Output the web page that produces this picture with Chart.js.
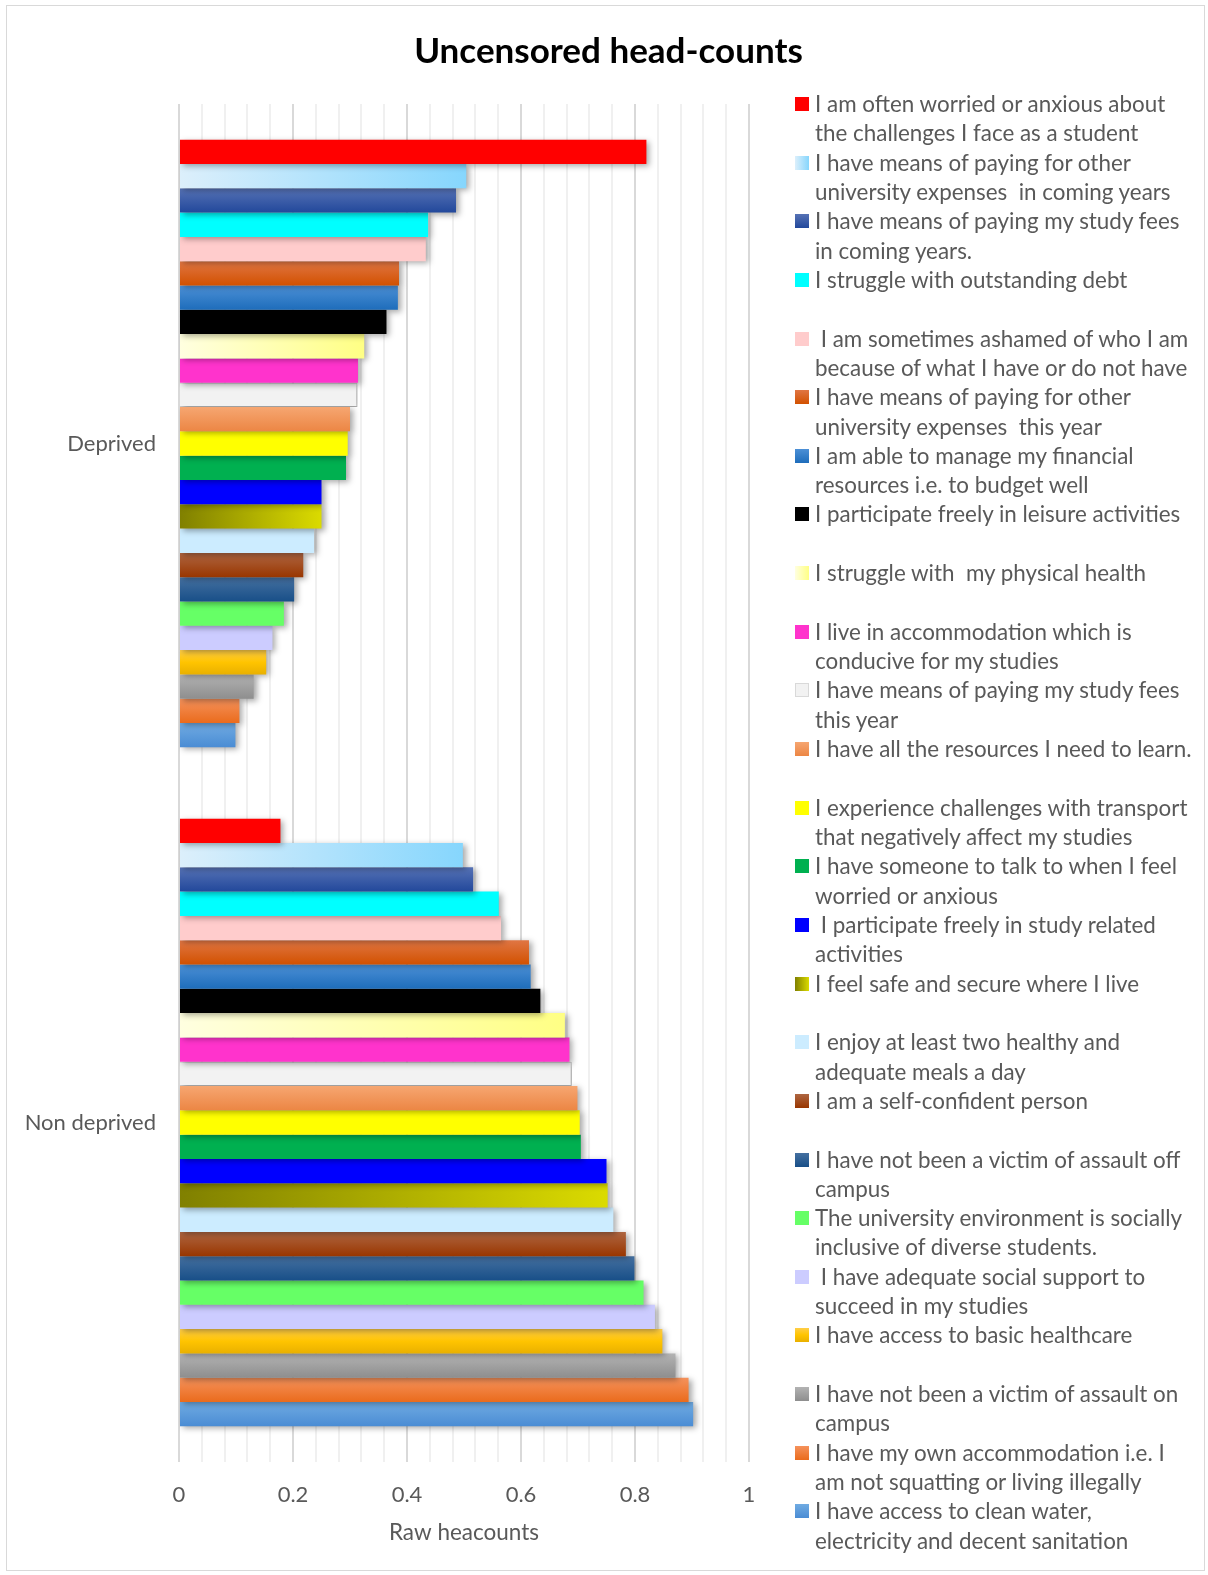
<!DOCTYPE html>
<html>
<head>
<meta charset="utf-8">
<title>Uncensored head-counts</title>
<script src="https://cdn.jsdelivr.net/npm/chart.js@4"></script>
<style>
  html, body { margin: 0; padding: 0; background: #fff; }
  #wrap { position: relative; width: 1208px; height: 1575px; overflow: hidden;
          font-family: Lato, "Open Sans", sans-serif; }
  #frame { position: absolute; left: 6px; top: 5px; width: 1199px; height: 1566px;
           border: 1px solid #d9d9d9; box-sizing: border-box; }
  #title { position: absolute; left: 0; width: 1217px; top: 28px; text-align: center;
           font-weight: bold; font-size: 35px; line-height: 42px; color: #000; }
  #chart { position: absolute; left: 0; top: 0; }
  #legend { position: absolute; left: 795px; top: 89px; }
  .item { display: flex; height: 58.65px; }
  .box { width: 14px; height: 14px; margin-top: 8px; margin-right: 6px; flex: none;
         box-sizing: border-box; }
  .txt { font-size: 22.4px; line-height: 29.3px; color: #595959; white-space: pre; }
</style>
</head>
<body>
<div id="wrap">
  <div id="frame"></div>
  <canvas id="chart" width="1208" height="1575"></canvas>
  <div id="title">Uncensored head-counts</div>
  <div id="legend"></div>
</div>
<script>
(function () {
  'use strict';

  // ----------------------------------------------------------
  // Données
  // ----------------------------------------------------------
  const categories = ['Deprived', 'Non deprived'];

  // libellés des séries, coupés comme dans la légende d'origine
  const seriesNames = [
    ['I am often worried or anxious about', 'the challenges I face as a student'],
    ['I have means of paying for other', 'university expenses  in coming years'],
    ['I have means of paying my study fees', 'in coming years.'],
    ['I struggle with outstanding debt', ''],
    [' I am sometimes ashamed of who I am', 'because of what I have or do not have'],
    ['I have means of paying for other', 'university expenses  this year'],
    ['I am able to manage my financial', 'resources i.e. to budget well'],
    ['I participate freely in leisure activities', ''],
    ['I struggle with  my physical health', ''],
    ['I live in accommodation which is', 'conducive for my studies'],
    ['I have means of paying my study fees', 'this year'],
    ['I have all the resources I need to learn.', ''],
    ['I experience challenges with transport', 'that negatively affect my studies'],
    ['I have someone to talk to when I feel', 'worried or anxious'],
    [' I participate freely in study related', 'activities'],
    ['I feel safe and secure where I live', ''],
    ['I enjoy at least two healthy and', 'adequate meals a day'],
    ['I am a self-confident person', ''],
    ['I have not been a victim of assault off', 'campus'],
    ['The university environment is socially', 'inclusive of diverse students.'],
    [' I have adequate social support to', 'succeed in my studies'],
    ['I have access to basic healthcare', ''],
    ['I have not been a victim of assault on', 'campus'],
    ['I have my own accommodation i.e. I', 'am not squatting or living illegally'],
    ['I have access to clean water,', 'electricity and decent sanitation'],
  ];

  const deprivedValues = [
    0.820, 0.504, 0.486, 0.437, 0.433, 0.386, 0.384, 0.364, 0.325, 0.314, 0.313, 0.300, 0.296,
    0.293, 0.250, 0.250, 0.237, 0.218, 0.202, 0.184, 0.164, 0.153, 0.131, 0.106, 0.099,
  ];
  const nonDeprivedValues = [
    0.178, 0.498, 0.516, 0.561, 0.565, 0.614, 0.617, 0.634, 0.677, 0.685, 0.689, 0.699, 0.703,
    0.705, 0.750, 0.752, 0.762, 0.784, 0.799, 0.815, 0.835, 0.848, 0.871, 0.894, 0.902,
  ];

  const majorTicks = [0, 0.2, 0.4, 0.6, 0.8, 1];
  const tickLabels = ['0', '0.2', '0.4', '0.6', '0.8', '1'];
  const minorPerMajor = 5;

  // ----------------------------------------------------------
  // Styles (couleurs unies ou dégradés façon Excel)
  // ----------------------------------------------------------
  const seriesStyles = [
    '#FF0000',
    { dir: 'h', stops: ['#DCEFFB', '#86D6FD'] },
    { dir: 'v', stops: ['#5672B5', '#22489B'] },
    '#00FFFF',
    '#FFCCCC',
    { dir: 'v', stops: ['#E07644', '#D25100'] },
    { dir: 'v', stops: ['#4C90D6', '#1E6DBB'] },
    '#000000',
    { dir: 'h', stops: ['#FFFFE0', '#FFFF84'] },
    '#FF33CC',
    '#F2F2F2',
    { dir: 'v', stops: ['#F6A671', '#EC8644'] },
    '#FFFF00',
    '#00B050',
    '#0000FF',
    { dir: 'h', stops: ['#808000', '#DBDB00'] },
    '#CCECFF',
    { dir: 'v', stops: ['#AE6642', '#993600'] },
    { dir: 'v', stops: ['#4570A0', '#184F88'] },
    '#66FF66',
    '#CCCCFF',
    { dir: 'v', stops: ['#FFCE48', '#FFC400', '#E9B000'] },
    { dir: 'v', stops: ['#B3B3B3', '#8E8E8E'] },
    { dir: 'v', stops: ['#F5925C', '#EA6B1C'] },
    { dir: 'v', stops: ['#70ABE2', '#4A8CD4'] },
  ];

  function fillFor(style) {
    if (typeof style === 'string') return style;
    const last = style.stops[style.stops.length - 1];
    return function (c) {
      if (c.type !== 'data') return last;
      const bar = c.chart.getDatasetMeta(c.datasetIndex).data[c.dataIndex];
      if (!bar || !isFinite(bar.x) || !isFinite(bar.y) || !isFinite(bar.base)) return last;
      const ctx = c.chart.ctx;
      const g = style.dir === 'h'
        ? ctx.createLinearGradient(bar.base, 0, Math.max(bar.x, bar.base + 1), 0)
        : ctx.createLinearGradient(0, bar.y - bar.height / 2, 0, bar.y + bar.height / 2);
      style.stops.forEach((s, i) => g.addColorStop(i / (style.stops.length - 1), s));
      return g;
    };
  }

  function cssFor(style) {
    if (typeof style === 'string') return style;
    return 'linear-gradient(' + (style.dir === 'h' ? 'to right' : 'to bottom') + ', '
      + style.stops.join(', ') + ')';
  }

  // ----------------------------------------------------------
  // Graduations : majeures tous les 0.2, mineures entre
  // ----------------------------------------------------------
  const allTicks = [];
  for (let i = 0; i < majorTicks.length - 1; i++) {
    const step = (majorTicks[i + 1] - majorTicks[i]) / minorPerMajor;
    for (let k = 0; k < minorPerMajor; k++) allTicks.push(majorTicks[i] + k * step);
  }
  allTicks.push(majorTicks[majorTicks.length - 1]);

  function majorIndex(v) {
    return majorTicks.findIndex((m) => Math.abs(m - v) < 1e-6);
  }

  // ombre portée sous les barres
  const barShadow = {
    id: 'barShadow',
    beforeDatasetsDraw(chart) {
      const ctx = chart.ctx;
      ctx.save();
      ctx.shadowColor   = 'rgba(0, 0, 0, 0.35)';
      ctx.shadowBlur    = 6;
      ctx.shadowOffsetX = 3;
      ctx.shadowOffsetY = 2;
    },
    afterDatasetsDraw(chart) {
      chart.ctx.restore();
    },
  };

  // ----------------------------------------------------------
  // Graphique
  // ----------------------------------------------------------
  Chart.defaults.font.family = 'Lato, "Open Sans", sans-serif';
  Chart.defaults.color = '#595959';

  const datasets = seriesNames.map((lines, i) => ({
    label:           lines.join(' ').trim(),
    data:            [deprivedValues[i], nonDeprivedValues[i]],
    backgroundColor: fillFor(seriesStyles[i]),
    borderColor:     '#D0D0D0',
    borderWidth:     seriesStyles[i] === '#F2F2F2' ? 1 : 0,
  }));

  const chart = new Chart(document.getElementById('chart'), {
    type: 'bar',
    data: { labels: categories, datasets },
    options: {
      indexAxis:  'y',
      responsive: false,
      animation:  false,
      events:     [],
      devicePixelRatio: 1,
      barPercentage:      1,
      categoryPercentage: 0.895,
      layout: { padding: { left: 0, right: 459, top: 104, bottom: 28 } },
      plugins: {
        legend:  { display: false },
        tooltip: { enabled: false },
      },
      scales: {
        x: {
          type: 'linear',
          min: 0,
          max: 1,
          afterBuildTicks: (scale) => { scale.ticks = allTicks.map((v) => ({ value: v })); },
          afterFit: (scale) => { scale.height = 85; },
          border: { display: false },
          grid: {
            drawTicks: false,
            lineWidth: 2,
            color: (c) => (c.tick && majorIndex(c.tick.value) >= 0 ? '#D9D9D9' : '#F0F0F0'),
          },
          ticks: {
            autoSkip: false,
            maxRotation: 0,
            padding: 20,
            font: { size: 22 },
            color: '#595959',
            callback: (v) => {
              const idx = majorIndex(v);
              return idx >= 0 ? tickLabels[idx] : '';
            },
          },
          title: {
            display: true,
            text: 'Raw heacounts',
            color: '#595959',
            font: { size: 22.5 },
            padding: { top: 12, bottom: 1 },
          },
        },
        y: {
          type: 'category',
          afterFit: (scale) => { scale.width = 179; },
          border: { display: false },
          grid: { display: false, drawTicks: false },
          ticks: { padding: 23, font: { size: 22 }, color: '#595959' },
        },
      },
    },
    plugins: [barShadow],
  });

  // second passage : les dégradés utilisent la géométrie des barres
  chart.update();

  // ----------------------------------------------------------
  // Légende HTML (libellés sur deux lignes)
  // ----------------------------------------------------------
  const legendEl = document.getElementById('legend');
  chart.data.datasets.forEach((ds, i) => {
    const item = document.createElement('div');
    item.className = 'item';

    const box = document.createElement('div');
    box.className = 'box';
    box.style.background = cssFor(seriesStyles[i]);
    if (seriesStyles[i] === '#F2F2F2') box.style.border = '1px solid #D9D9D9';

    const txt = document.createElement('div');
    txt.className = 'txt';
    txt.textContent = seriesNames[i].join('\n');

    item.appendChild(box);
    item.appendChild(txt);
    legendEl.appendChild(item);
  });
})();
</script>
</body>
</html>
